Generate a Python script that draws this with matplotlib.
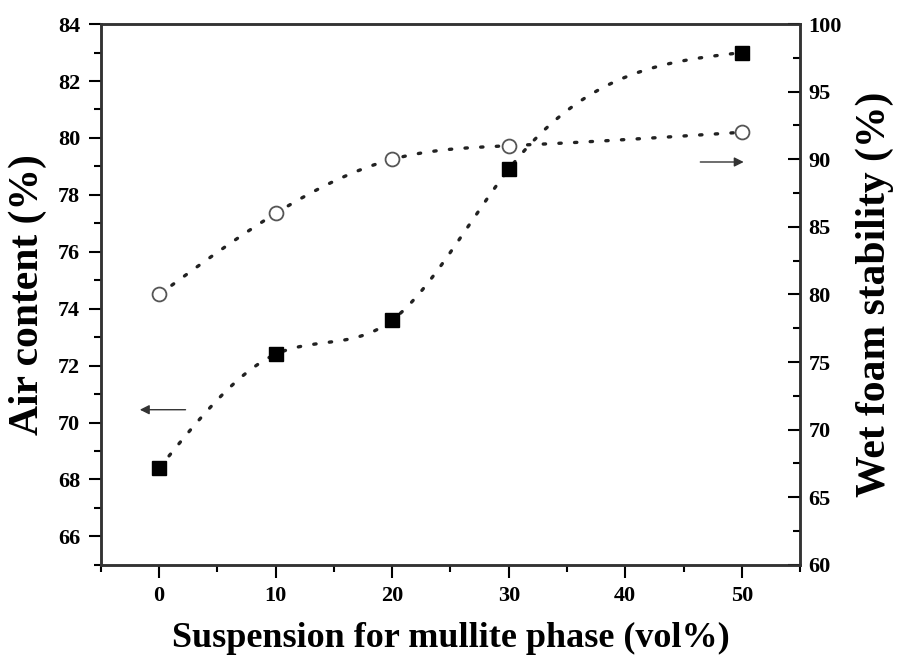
import numpy as np
import matplotlib.pyplot as plt
from matplotlib.ticker import MultipleLocator

plt.rcParams['font.family'] = ['Liberation Serif', 'DejaVu Serif']
plt.rcParams['font.weight'] = 'bold'

# mullite suspension content (vol%)
mullite = [0, 10, 20, 30, 50]
# air content (%), left axis
air_content = [68.4, 72.4, 73.6, 78.9, 83.0]
# wet foam stability (%), right axis
foam_stability = [80.0, 86.0, 90.0, 91.0, 92.0]


def natural_spline(x, y, n=300):
    # natural cubic spline through the points, used only for the connecting line
    x = np.asarray(x, float)
    y = np.asarray(y, float)
    h = np.diff(x)
    m = len(x)
    A = np.zeros((m, m))
    b = np.zeros(m)
    A[0, 0] = A[-1, -1] = 1
    for i in range(1, m - 1):
        A[i, i - 1] = h[i - 1]
        A[i, i] = 2 * (h[i - 1] + h[i])
        A[i, i + 1] = h[i]
        b[i] = 6 * ((y[i + 1] - y[i]) / h[i] - (y[i] - y[i - 1]) / h[i - 1])
    M = np.linalg.solve(A, b)
    xs = np.linspace(x[0], x[-1], n)
    k = np.clip(np.searchsorted(x, xs) - 1, 0, m - 2)
    t0 = x[k + 1] - xs
    t1 = xs - x[k]
    hk = h[k]
    ys = (M[k] * t0**3 + M[k + 1] * t1**3) / (6 * hk) \
        + (y[k] / hk - M[k] * hk / 6) * t0 + (y[k + 1] / hk - M[k + 1] * hk / 6) * t1
    return xs, ys


fig = plt.figure(figsize=(9.01, 6.70), dpi=100)
ax = fig.add_axes([0.112, 0.157, 0.776, 0.807])
ax2 = ax.twinx()

dots = (0, (0.7, 4.0))

xs, ys = natural_spline(mullite, air_content)
ax.plot(xs, ys, color='#222222', lw=2.4, linestyle=dots, dash_capstyle='round')
ax.plot(mullite, air_content, 's', color='black', ms=9.5, zorder=5)

xs, ys = natural_spline(mullite, foam_stability)
ax2.plot(xs, ys, color='#222222', lw=2.4, linestyle=dots, dash_capstyle='round')
ax2.plot(mullite, foam_stability, 'o', mfc='white', mec='#555555', mew=1.3, ms=10, zorder=5)

# arrows telling which axis each series belongs to
ax.annotate('', xy=(-1.9, 70.45), xytext=(2.5, 70.45),
            arrowprops=dict(arrowstyle='-|>', color='#333333', lw=1.0, mutation_scale=14))
ax2.annotate('', xy=(50.4, 89.8), xytext=(46.2, 89.8),
             arrowprops=dict(arrowstyle='-|>', color='#333333', lw=1.0, mutation_scale=14))

ax.set_xlim(-5, 55)
ax.set_ylim(65, 84)
ax2.set_ylim(60, 100)

ax.xaxis.set_major_locator(MultipleLocator(10))
ax.xaxis.set_minor_locator(MultipleLocator(5))
ax.yaxis.set_major_locator(MultipleLocator(2))
ax.yaxis.set_minor_locator(MultipleLocator(1))
ax2.yaxis.set_major_locator(MultipleLocator(5))
ax2.yaxis.set_minor_locator(MultipleLocator(2.5))

ax.tick_params(axis='both', which='major', direction='out', length=9, width=1.5,
               labelsize=16, top=False, right=False, pad=6)
ax.tick_params(axis='both', which='minor', direction='out', length=5, width=1.5,
               top=False, right=False)
ax2.tick_params(axis='y', which='major', direction='in', length=9, width=1.5,
                labelsize=16, pad=6)
ax2.tick_params(axis='y', which='minor', direction='in', length=5, width=1.5)

for a in (ax, ax2):
    for s in a.spines.values():
        s.set_linewidth(1.8)
        s.set_color('#333333')
    for lab in a.get_xticklabels() + a.get_yticklabels():
        lab.set_fontweight('bold')

ax.set_xlabel('Suspension for mullite phase (vol%)', fontsize=26, fontweight='bold', labelpad=12)
ax.set_ylabel('Air content (%)', fontsize=30, fontweight='bold', labelpad=8)
ax2.set_ylabel('Wet foam stability (%)', fontsize=30, fontweight='bold', labelpad=10)

fig.savefig('out.png', dpi=100)
